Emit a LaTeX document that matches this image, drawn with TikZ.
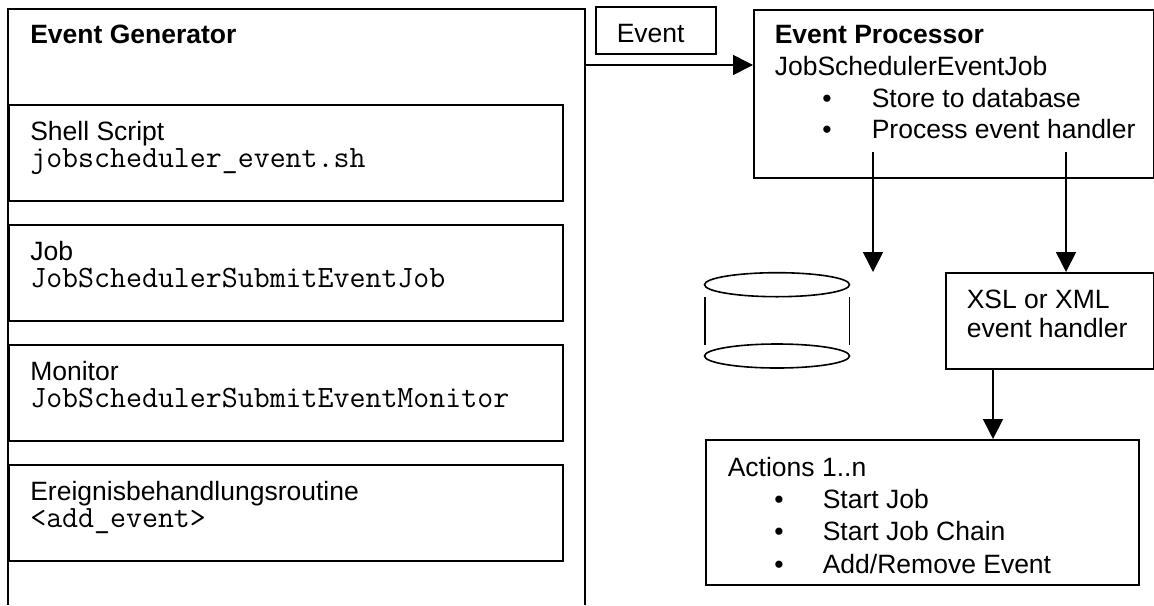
\documentclass[tikz,border=0pt]{standalone}
\usepackage{fontspec}
\setmainfont{Liberation Sans}
\usetikzlibrary{arrows.meta}

\begin{document}
\begin{tikzpicture}[x=0.5pt, y=-0.5pt, line width=0.8pt,
  box/.style={draw, anchor=north west, inner sep=0pt},
  txt/.style={anchor=base west, inner sep=0pt, font=\fontsize{13.25}{15}\selectfont},
  code/.style={anchor=base west, inner sep=0pt, font=\fontsize{15.5}{17}\selectfont\ttfamily},
  dot/.style={anchor=base, inner sep=0pt, font=\fontsize{13.25}{15}\selectfont},
  arr/.style={-{Triangle[length=10pt,width=10pt]}}]
  \useasboundingbox (0,0) rectangle (1154,605);

  % event generator frame (open at the bottom)
  \draw (8,605) -- (8,9) -- (585,9) -- (585,605);
  \node[txt, font=\fontsize{13.25}{15}\selectfont\bfseries] (gentitle) at (29.5,43) {Event Generator};

  \node[box, minimum width=277pt, minimum height=48pt] (shell) at (8,104) {};
  \node[txt] (shellname) at (29.5,140) {Shell Script};
  \node[code] (shellcode) at (29.5,167) {jobscheduler\_event.sh};

  \node[box, minimum width=277pt, minimum height=48pt] (job) at (8,224) {};
  \node[txt] (jobname) at (29.5,260) {Job};
  \node[code] (jobcode) at (29.5,287) {JobSchedulerSubmitEventJob};

  \node[box, minimum width=277pt, minimum height=48pt] (monitor) at (8,344) {};
  \node[txt] (monname) at (29.5,380) {Monitor};
  \node[code] (moncode) at (29.5,407) {JobSchedulerSubmitEventMonitor};

  \node[box, minimum width=277pt, minimum height=48pt] (handler) at (8,464) {};
  \node[txt] (hdlname) at (29.5,500) {Ereignisbehandlungsroutine};
  \node[code] (hdlcode) at (29.5,527) {<add\_event>};

  % event label and arrow
  \node[box, minimum width=60pt, minimum height=23.5pt] (evt) at (595,6) {};
  \node[txt] (evtname) at (616,42) {Event};

  % event processor
  \node[box, minimum width=199.75pt, minimum height=84pt] (proc) at (753,9) {};
  \node[txt, font=\fontsize{13.25}{15}\selectfont\bfseries] (proctitle) at (774,43) {Event Processor};
  \node[txt] (procjob) at (774,75) {JobSchedulerEventJob};
  \node[dot] (pb1) at (827,107) {•};
  \node[txt] (store) at (871,107) {Store to database};
  \node[dot] (pb2) at (827,138) {•};
  \node[txt] (process) at (871,138) {Process event handler};

  \coordinate (genout) at (585,65);
  \draw[arr] (genout) -- (genout -| proc.west);

  % database
  \draw (777,284.7) ellipse [x radius=36.25pt, y radius=6pt];
  \draw (777,356) ellipse [x radius=36.25pt, y radius=6pt];
  \draw (705,297) -- (705,345);
  \draw (849.5,297) -- (849.5,345);

  % xsl / xml handler
  \node[box, minimum width=103.75pt, minimum height=48pt] (xsl) at (945,272) {};
  \node[txt] (xsl1) at (966,308) {XSL or XML};
  \node[txt] (xsl2) at (966,337) {event handler};

  % actions
  \node[box, minimum width=216.5pt, minimum height=72.5pt] (act) at (705,439) {};
  \node[txt] (actname) at (727,476) {Actions 1..n};
  \node[dot] (ab1) at (779,508) {•};
  \node[txt] (act1) at (822,508) {Start Job};
  \node[dot] (ab2) at (779,540) {•};
  \node[txt] (act2) at (822,540) {Start Job Chain};
  \node[dot] (ab3) at (779,573) {•};
  \node[txt] (act3) at (822,573) {Add/Remove Event};

  % connectors
  \coordinate (tostore) at (873,152);
  \coordinate (dbin) at (873,272);
  \draw[arr] (tostore) -- (dbin);
  \coordinate (tohandler) at (1066,152);
  \draw[arr] (tohandler) -- (tohandler |- xsl.north);
  \coordinate (xslout) at (993,368);
  \draw[arr] (xslout) -- (xslout |- act.north);
\end{tikzpicture}
\end{document}
